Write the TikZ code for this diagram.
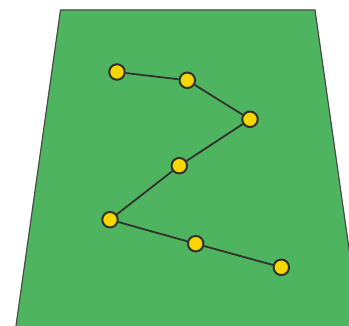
\documentclass[tikz,border=0pt]{standalone}
\definecolor{field}{RGB}{78,180,96}
\definecolor{fieldline}{RGB}{70,75,70}
\definecolor{cone}{RGB}{248,214,0}
\definecolor{ink}{RGB}{50,50,45}
\tikzset{
  dot/.style={circle,draw=ink,line width=2pt,fill=cone,minimum size=15.5pt,inner sep=0pt},
  link/.style={draw=ink,line width=1.8pt}
}
\begin{document}
\begin{tikzpicture}[x=1pt,y=-1pt]
\useasboundingbox (0,0) rectangle (349,326);
\begin{scope}
\clip (0,0) rectangle (349,326);
\fill[field,draw=fieldline,line width=1.2pt] (60.5,10) -- (315,10) -- (362,340) -- (14,340) -- cycle;
\end{scope}
\node[dot] (n1) at (117,72) {};
\node[dot] (n2) at (187.3,80.3) {};
\node[dot] (n3) at (250,119.3) {};
\node[dot] (n4) at (179.3,165.7) {};
\node[dot] (n5) at (110,219.7) {};
\node[dot] (n6) at (195.7,243.7) {};
\node[dot] (n7) at (281.3,267.3) {};
\draw[link] (n1) -- (n2);
\draw[link] (n2) -- (n3);
\draw[link] (n3) -- (n4);
\draw[link] (n4) -- (n5);
\draw[link] (n5) -- (n6);
\draw[link] (n6) -- (n7);
\end{tikzpicture}
\end{document}
